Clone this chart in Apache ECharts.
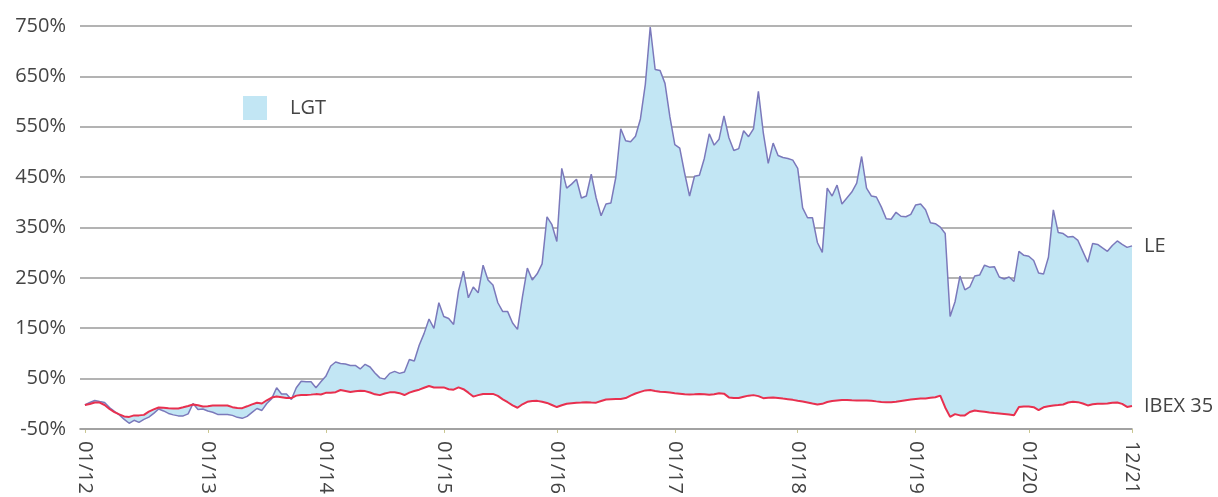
<!DOCTYPE html>
<html>
<head>
<meta charset="utf-8">
<script src="https://cdn.jsdelivr.net/npm/echarts@6/dist/echarts.min.js"></script>
<style>
  html, body { margin: 0; padding: 0; background: #fff; }
  #chart { width: 1218px; height: 497px; }
</style>
</head>
<body>
<div id="chart"></div>
<script>
// one sample ~ half a month; tickIdx = sample where each label sits
const tickIdx = [0, 25, 49, 73, 96, 120, 145, 169, 192, 213];
const tickLabels = ['01/12', '01/13', '01/14', '01/15', '01/16', '01/17', '01/18', '01/19', '01/20', '12/21'];

// LGT (LE) cumulative return, %
const lgt = [
  -2.5, 2.4, 6.3, 4.3, 2.4, -7.4, -15.3, -22.1, -31.0, -38.8,
  -32.9, -36.9, -31.0, -26.5, -19.2, -10.4, -14.3, -19.2, -22.1, -24.1,
  -24.1, -20.2, 0.4, -11.3, -10.4, -14.3, -16.8, -21.2, -21.2, -21.2,
  -23.1, -27.0, -29.0, -25.1, -17.2, -9.4, -13.3, 0.4, 10.2, 31.8,
  19.5, 19.1, 8.3, 31.8, 44.6, 43.6, 43.6, 31.8, 43.6, 54.4,
  75.0, 82.8, 79.9, 78.9, 76.0, 76.0, 69.1, 78.3, 73.0, 61.2,
  51.4, 48.9, 60.3, 64.2, 60.3, 63.2, 87.7, 84.8, 116.2, 139.7,
  168.2, 149.5, 200.5, 173.1, 169.2, 157.4, 224.1, 263.3, 210.4, 231.9,
  220.2, 275.1, 245.7, 235.9, 200.5, 182.9, 182.9, 160.3, 147.6, 212.3,
  269.2, 245.7, 258.0, 277.7, 371.2, 355.5, 322.2, 467.4, 428.1, 436.0,
  445.8, 408.5, 412.4, 455.6, 408.5, 373.2, 396.7, 398.7, 449.7, 545.9,
  522.3, 520.4, 531.1, 565.5, 634.2, 748.0, 663.6, 661.6, 636.1, 569.4,
  514.5, 507.6, 457.6, 412.4, 451.7, 453.6, 487.0, 536.0, 513.5, 525.3,
  571.4, 528.2, 502.7, 506.6, 541.9, 530.2, 545.9, 620.4, 538.0, 477.2,
  517.4, 492.9, 489.0, 487.0, 483.7, 467.4, 388.9, 369.3, 369.3, 320.2,
  300.6, 428.1, 412.4, 434.0, 396.7, 408.5, 420.3, 438.0, 490.9, 428.1,
  412.4, 410.5, 390.9, 367.3, 366.3, 380.1, 372.2, 371.2, 376.1, 394.8,
  396.7, 385.0, 359.5, 357.5, 350.6, 337.9, 173.1, 202.5, 253.5, 226.1,
  231.9, 253.5, 255.5, 275.1, 271.2, 272.2, 251.6, 247.6, 251.6, 242.7,
  302.6, 294.7, 292.8, 284.3, 259.4, 257.4, 290.8, 385.0, 339.9, 337.9,
  331.0, 332.0, 324.2, 302.6, 281.0, 318.3, 316.3, 309.4, 302.6, 314.3,
  323.2, 316.3, 310.4, 313.4
];

// IBEX 35 cumulative return, %
const ibex = [
  -2.5, -0.6, 2.4, 2.4, -2.5, -10.4, -16.6, -21.2, -25.1, -26.1,
  -23.1, -23.1, -22.1, -15.7, -11.3, -7.4, -8.0, -8.8, -9.4, -9.4,
  -7.0, -4.5, -1.5, -3.1, -5.5, -5.1, -3.5, -3.5, -3.5, -3.5,
  -6.8, -8.6, -8.8, -5.1, -1.3, 2.0, 0.4, 6.9, 12.2, 14.2,
  12.8, 11.2, 11.2, 16.1, 17.5, 17.5, 18.1, 19.1, 18.5, 21.6,
  22.0, 23.0, 27.3, 25.3, 23.2, 24.6, 25.9, 25.1, 22.4, 18.7,
  17.1, 20.4, 22.6, 22.6, 21.0, 17.3, 22.0, 25.3, 27.9, 31.8,
  35.3, 32.4, 32.4, 32.4, 28.9, 27.9, 32.4, 28.9, 22.0, 14.2,
  17.1, 19.5, 19.5, 19.5, 15.5, 8.7, 3.0, -3.3, -8.0, -1.1,
  3.8, 5.3, 5.7, 4.0, 1.6, -2.5, -6.6, -3.1, 0.0, 1.0,
  2.0, 2.4, 3.0, 2.4, 2.2, 5.3, 8.3, 9.1, 9.6, 9.6,
  11.2, 16.1, 20.4, 23.6, 26.5, 27.1, 25.5, 24.0, 23.2, 22.2,
  21.0, 20.0, 18.9, 18.3, 18.7, 19.3, 18.9, 17.9, 18.9, 21.0,
  20.0, 12.6, 11.6, 11.4, 14.0, 16.1, 17.1, 15.1, 11.0, 11.8,
  12.6, 11.4, 10.2, 9.1, 7.7, 5.9, 4.3, 2.6, 0.6, -1.3,
  -0.2, 3.4, 5.5, 6.5, 7.5, 7.3, 6.7, 6.3, 6.3, 6.3,
  5.9, 4.7, 3.6, 3.0, 3.0, 3.8, 5.5, 7.1, 8.3, 9.4,
  10.2, 10.6, 11.8, 13.0, 16.1, -7.4, -26.1, -20.6, -23.1, -23.1,
  -16.3, -13.5, -14.7, -15.9, -17.2, -18.4, -19.2, -20.2, -21.2, -22.7,
  -6.6, -5.3, -5.7, -6.8, -12.5, -7.0, -4.9, -3.3, -2.7, -1.5,
  2.4, 3.8, 3.2, 0.4, -3.3, -1.1, -0.2, -0.2, 0.4, 2.0,
  2.6, -0.2, -6.4, -4.5
];

// y axis runs -50..750 with a step of 100; shift so min is 0
const OFFSET = 50;
const FONT = "'Open Sans', sans-serif";

// one empty slot in front so the grid starts a little left of the first point
const cats = [''].concat(lgt.map((v, i) => String(i)));
const pad = arr => [null].concat(arr);
const lower = pad(lgt.map((v, i) => Math.min(v, ibex[i]) + OFFSET));
const gap = pad(lgt.map((v, i) => Math.abs(v - ibex[i])));
const showTick = i => tickIdx.indexOf(i - 1) >= 0;

const chart = echarts.init(document.getElementById('chart'));

chart.setOption({
  animation: false,
  grid: { left: 80, right: 86, top: 26, bottom: 63 },
  legend: {
    data: [{ name: 'LGT', itemStyle: { color: '#c2e6f4', borderWidth: 0 } }],
    left: 243,
    top: 96,
    padding: 0,
    icon: 'rect',
    itemWidth: 24,
    itemHeight: 24,
    selectedMode: false,
    formatter: '{a|{name}}',
    textStyle: {
      rich: { a: { fontSize: 20, color: '#444', fontFamily: FONT, padding: [0, 0, 0, 18] } }
    }
  },
  xAxis: {
    type: 'category',
    data: cats,
    boundaryGap: false,
    splitLine: { show: false },
    axisLine: { onZero: false, lineStyle: { color: '#bdbdbd', width: 2 } },
    axisTick: { interval: showTick, length: 4, lineStyle: { color: '#c9c68f' } },
    axisLabel: {
      interval: showTick,
      rotate: -90,
      margin: 12,
      fontSize: 20,
      color: '#444',
      fontFamily: FONT,
      formatter: (v, i) => tickLabels[tickIdx.indexOf(i - 1)]
    }
  },
  yAxis: {
    type: 'value',
    min: 0,
    max: 800,
    interval: 100,
    z: 3,
    axisLine: { show: false },
    axisTick: { show: false },
    splitLine: { lineStyle: { color: '#9a9a9a', width: 1.5 } },
    axisLabel: {
      margin: 14,
      fontSize: 20,
      color: '#444',
      fontFamily: FONT,
      formatter: v => (v - OFFSET) + '%'
    }
  },
  series: [
    {
      name: 'base',
      type: 'line',
      stack: 'band',
      symbol: 'none',
      silent: true,
      lineStyle: { opacity: 0 },
      data: lower
    },
    {
      name: 'LGT',
      type: 'line',
      stack: 'band',
      symbol: 'none',
      silent: true,
      itemStyle: { color: '#c2e6f4' },
      lineStyle: { opacity: 0 },
      areaStyle: { color: '#c2e6f4', opacity: 1 },
      data: gap
    },
    {
      name: 'LE',
      type: 'line',
      symbol: 'none',
      z: 4,
      color: '#7b79bb',
      lineStyle: { width: 1.5 },
      endLabel: { show: true, formatter: 'LE', distance: 12, fontSize: 20, color: '#444', fontFamily: FONT },
      data: pad(lgt.map(v => v + OFFSET))
    },
    {
      name: 'IBEX 35',
      type: 'line',
      symbol: 'none',
      z: 5,
      color: '#e8304f',
      lineStyle: { width: 2 },
      endLabel: { show: true, formatter: 'IBEX 35', distance: 12, fontSize: 20, color: '#444', fontFamily: FONT },
      data: pad(ibex.map(v => v + OFFSET))
    }
  ]
});
</script>
</body>
</html>
